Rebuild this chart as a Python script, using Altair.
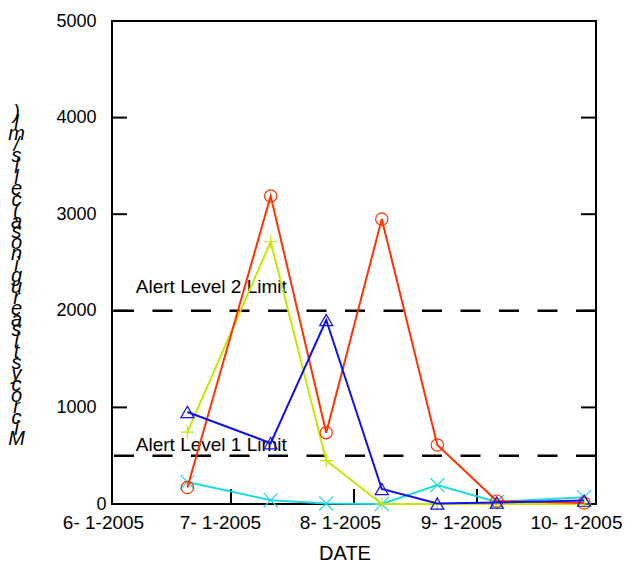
import altair as alt
import pandas as pd

FONT = "Liberation Sans"

# ---- data ----
sample_dates = ["2005-06-20T00:00:00", "2005-07-11T00:00:00", "2005-07-25T00:00:00",
                "2005-08-08T00:00:00", "2005-08-22T00:00:00", "2005-09-06T00:00:00",
                "2005-09-28T00:00:00"]
cyan_x = [228, 40, 5, 0, 196, 22, 70]
yellow_plus = [745, 2715, 450, 0, 0, 0, 0]
red_circle = [170, 3188, 738, 2950, 611, 30, 10]
blue_triangle = [953, 630, 1905, 155, 5, 15, 35]

series_order = ["cyan", "yellow", "red", "blue"]
series_values = {"cyan": cyan_x, "yellow": yellow_plus, "red": red_circle, "blue": blue_triangle}
series_colors = {"cyan": "#22d8dc", "yellow": "#c8e600", "red": "#ff3300", "blue": "#1010ee"}
series_shapes = {"cyan": "M-1,-1L1,1M-1,1L1,-1", "yellow": "M-1,0L1,0M0,-1L0,1",
                 "red": "circle", "blue": "triangle-up"}
series_sizes = {"cyan": 200, "yellow": 170, "red": 150, "blue": 170}

alert_values = [2000, 500]
alert_labels = ["Alert Level 2 Limit", "Alert Level 1 Limit"]
alert_label_dates = ["2005-06-07T00:00:00", "2005-06-07T00:00:00"]
alert_label_values = [2185, 552]

x_tick_dates = [(2005, 6, 1), (2005, 7, 1), (2005, 8, 1), (2005, 9, 1), (2005, 10, 1)]
inner_x_ticks = ["2005-07-01T00:00:00", "2005-08-01T00:00:00", "2005-09-01T00:00:00"]
y_tick_values = [0, 1000, 2000, 3000, 4000, 5000]
inner_y_ticks = [1000, 2000, 3000, 4000]

y_title = "Microcystis aeruginosa (cells/ml)"
x_title = "DATE"

W, H = 484, 483
TICK = 15

# ---- tables ----
rows = []
for s in series_order:
    for d, v in zip(sample_dates, series_values[s]):
        rows.append({"date": d, "value": v, "series": s})
df = pd.DataFrame(rows)

alerts = pd.DataFrame({"v": alert_values})
alert_text = pd.DataFrame({"d": alert_label_dates, "v": alert_label_values, "t": alert_labels})
ytick_df = pd.DataFrame({"v": inner_y_ticks})
xtick_df = pd.DataFrame({"d": inner_x_ticks})

x_scale = alt.Scale(domain=[alt.DateTime(year=2005, month=6, date=1),
                            alt.DateTime(year=2005, month=10, date=1)], nice=False)
y_scale = alt.Scale(domain=[0, 5000], nice=False)

x_axis = alt.Axis(
    values=[alt.DateTime(year=y, month=m, date=d) for (y, m, d) in x_tick_dates],
    format="%-m- %-d-%Y", ticks=False, tickSize=0, domain=False, grid=False,
    labelFont=FONT, labelFontSize=19, labelColor="black", labelPadding=9,
    labelFlush=False, labelOverlap=False, labelBound=False,
    labelOffset={"condition": [
        {"test": "month(datum.value) == 5", "value": -9},
        {"test": "month(datum.value) == 6", "value": -11},
        {"test": "month(datum.value) == 7", "value": -14},
        {"test": "month(datum.value) == 8", "value": -16}], "value": -20},
    title=x_title, titleFont=FONT, titleFontSize=20, titleFontWeight="normal",
    titleColor="black", titleX=232.5, titleY=55, titleAlign="center",
    titleBaseline="alphabetic",
)

y_axis = alt.Axis(
    values=y_tick_values, format="d", ticks=False, tickSize=0, domain=False, grid=False,
    labelFont=FONT, labelFontSize=18, labelColor="black", labelPadding=16,
    labelFlush=False, labelOverlap=False,
    labelAlign={"condition": {"test": "datum.value == 0", "value": "left"}, "value": "right"},
    title=list(reversed(list(y_title))), titleFont=FONT, titleFontSize=20,
    titleFontStyle="italic",
    titleFontWeight="normal", titleColor="black", titleAngle=0,
    titleLineHeight=10.9, titleX=-96, titleY=91, titleAlign="center",
    titleBaseline="middle",
)

X = lambda f: alt.X(f, scale=x_scale, axis=x_axis)
Y = lambda f: alt.Y(f, scale=y_scale, axis=y_axis)

layers = []

# dashed alert limits
layers.append(
    alt.Chart(alerts).mark_rule(color="black", strokeWidth=2.5, strokeDash=[20, 18.5]).encode(
        y=Y("v:Q"),
    )
)

# inward ticks
layers.append(
    alt.Chart(ytick_df).mark_rule(color="black", strokeWidth=2).encode(
        y=Y("v:Q"), x=alt.value(0), x2=alt.value(TICK))
)
layers.append(
    alt.Chart(ytick_df).mark_rule(color="black", strokeWidth=2).encode(
        y=Y("v:Q"), x=alt.value(W - TICK), x2=alt.value(W))
)
layers.append(
    alt.Chart(xtick_df).mark_rule(color="black", strokeWidth=2).encode(
        x=X("d:T"), y=alt.value(H), y2=alt.value(H - TICK))
)

# alert labels
layers.append(
    alt.Chart(alert_text).mark_text(align="left", baseline="alphabetic", font=FONT,
                                    fontSize=19, color="black").encode(
        x=X("d:T"), y=Y("v:Q"), text="t:N",
    )
)

for s in series_order:
    base = alt.Chart(df).transform_filter(alt.datum.series == s)
    layers.append(
        base.mark_line(color=series_colors[s], strokeWidth=2).encode(
            x=X("date:T"), y=Y("value:Q"),
        )
    )
    layers.append(
        base.mark_point(shape=series_shapes[s], filled=False, color=series_colors[s],
                        strokeWidth=1.2, size=series_sizes[s], opacity=1).encode(
            x=X("date:T"), y=Y("value:Q"),
        )
    )

chart = alt.layer(*layers).properties(
    width=W, height=H,
    autosize=alt.AutoSizeParams(type="none"),
    padding={"left": 104, "top": 13, "right": 26, "bottom": 58},
    background="white",
).configure_view(stroke="black", strokeWidth=2)

chart.save("out.html", embed_options={"renderer": "svg", "actions": False})
